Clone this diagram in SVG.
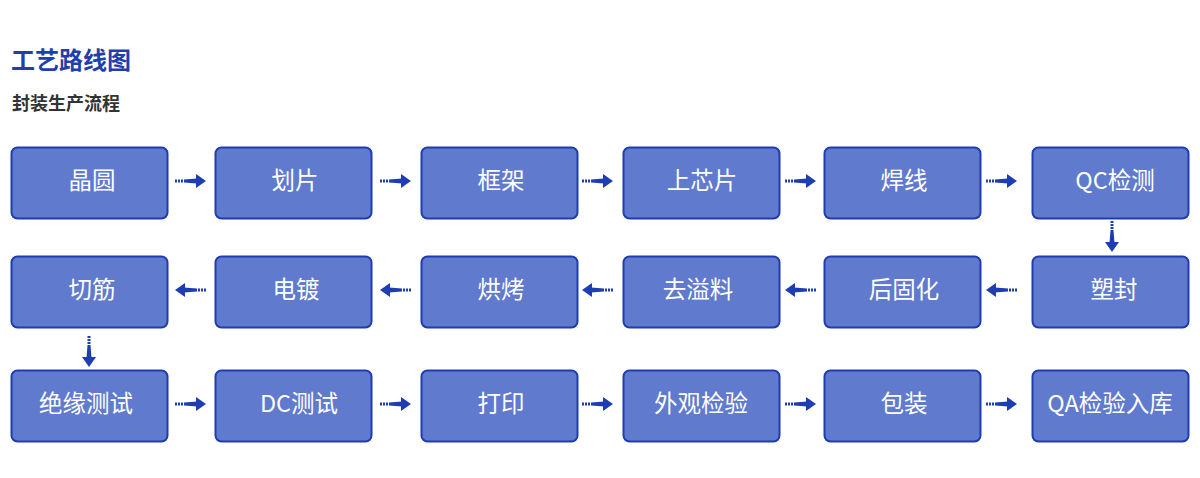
<svg xmlns="http://www.w3.org/2000/svg" xmlns:xlink="http://www.w3.org/1999/xlink" width="1200" height="478" viewBox="0 0 1200 478">
<style>
.box{fill:#607ace;stroke:#1e3db2;stroke-width:2}
.lbl{fill:#fff;font-family:"Noto Sans CJK SC","Noto Sans",sans-serif;font-size:23.5px;text-anchor:middle;dominant-baseline:central}
.title{fill:#1f3fae;font-family:"Noto Sans CJK SC",sans-serif;font-size:24px;font-weight:bold}
.sub{fill:#333;font-family:"Noto Sans CJK SC",sans-serif;font-size:18px;font-weight:bold}
.arr{fill:#1e3db2}
</style>
<defs>
<g id="arrow">
<rect class="arr" x="0" y="-1.5" width="2" height="3"/>
<rect class="arr" x="3" y="-1.5" width="2" height="3"/>
<rect class="arr" x="6" y="-1.5" width="2" height="3"/>
<polygon class="arr" points="9,-1.5 22,-2.5 22,2.5 9,1.5"/>
<polygon class="arr" points="21,-7 31,0 21,7"/>
</g>
</defs>
<rect width="1200" height="478" fill="#fff"/>
<text class="title" x="11" y="69">工艺路线图</text>
<text class="sub" x="12" y="110">封装生产流程</text>
<g id="connectors">
<use xlink:href="#arrow" transform="translate(175,181)"/>
<use xlink:href="#arrow" transform="translate(380,181)"/>
<use xlink:href="#arrow" transform="translate(582,181)"/>
<use xlink:href="#arrow" transform="translate(785,181)"/>
<use xlink:href="#arrow" transform="translate(986,181)"/>
<use xlink:href="#arrow" transform="translate(1112,221) rotate(90)"/>
<use xlink:href="#arrow" transform="translate(1017,290) scale(-1,1)"/>
<use xlink:href="#arrow" transform="translate(816,290) scale(-1,1)"/>
<use xlink:href="#arrow" transform="translate(613,290) scale(-1,1)"/>
<use xlink:href="#arrow" transform="translate(411,290) scale(-1,1)"/>
<use xlink:href="#arrow" transform="translate(206,290) scale(-1,1)"/>
<use xlink:href="#arrow" transform="translate(89,336) rotate(90)"/>
<use xlink:href="#arrow" transform="translate(175,404)"/>
<use xlink:href="#arrow" transform="translate(380,404)"/>
<use xlink:href="#arrow" transform="translate(582,404)"/>
<use xlink:href="#arrow" transform="translate(785,404)"/>
<use xlink:href="#arrow" transform="translate(986,404)"/>
</g>
<g id="n1"><rect class="box" x="11.5" y="147.5" width="156" height="71" rx="6"/><text class="lbl" x="92" y="179">晶圆</text></g>
<g id="n2"><rect class="box" x="215.5" y="147.5" width="156" height="71" rx="6"/><text class="lbl" x="295" y="179">划片</text></g>
<g id="n3"><rect class="box" x="421.5" y="147.5" width="156" height="71" rx="6"/><text class="lbl" x="501" y="179">框架</text></g>
<g id="n4"><rect class="box" x="623.5" y="147.5" width="156" height="71" rx="6"/><text class="lbl" x="702" y="179">上芯片</text></g>
<g id="n5"><rect class="box" x="824.5" y="147.5" width="156" height="71" rx="6"/><text class="lbl" x="904" y="179">焊线</text></g>
<g id="n6"><rect class="box" x="1032.5" y="147.5" width="156" height="71" rx="6"/><text class="lbl" x="1115" y="179">QC检测</text></g>
<g id="n7"><rect class="box" x="11.5" y="256.5" width="156" height="71" rx="6"/><text class="lbl" x="92" y="288">切筋</text></g>
<g id="n8"><rect class="box" x="215.5" y="256.5" width="156" height="71" rx="6"/><text class="lbl" x="296" y="288">电镀</text></g>
<g id="n9"><rect class="box" x="421.5" y="256.5" width="156" height="71" rx="6"/><text class="lbl" x="501" y="288">烘烤</text></g>
<g id="n10"><rect class="box" x="623.5" y="256.5" width="156" height="71" rx="6"/><text class="lbl" x="698" y="288">去溢料</text></g>
<g id="n11"><rect class="box" x="824.5" y="256.5" width="156" height="71" rx="6"/><text class="lbl" x="904" y="288">后固化</text></g>
<g id="n12"><rect class="box" x="1032.5" y="256.5" width="156" height="71" rx="6"/><text class="lbl" x="1114" y="288">塑封</text></g>
<g id="n13"><rect class="box" x="11.5" y="370.5" width="156" height="71" rx="6"/><text class="lbl" x="86" y="402">绝缘测试</text></g>
<g id="n14"><rect class="box" x="215.5" y="370.5" width="156" height="71" rx="6"/><text class="lbl" x="299" y="402">DC测试</text></g>
<g id="n15"><rect class="box" x="421.5" y="370.5" width="156" height="71" rx="6"/><text class="lbl" x="501" y="402">打印</text></g>
<g id="n16"><rect class="box" x="623.5" y="370.5" width="156" height="71" rx="6"/><text class="lbl" x="701" y="402">外观检验</text></g>
<g id="n17"><rect class="box" x="824.5" y="370.5" width="156" height="71" rx="6"/><text class="lbl" x="904" y="402">包装</text></g>
<g id="n18"><rect class="box" x="1032.5" y="370.5" width="156" height="71" rx="6"/><text class="lbl" x="1110" y="402">QA检验入库</text></g>
</svg>
